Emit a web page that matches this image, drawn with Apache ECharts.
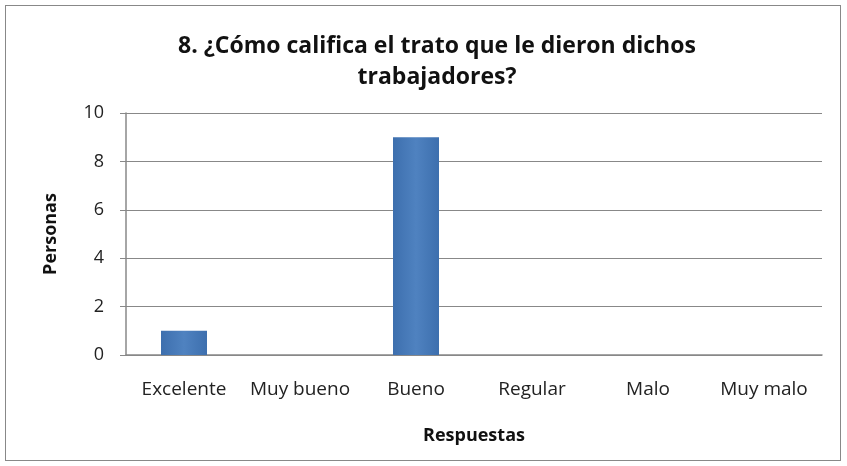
<!DOCTYPE html>
<html><head><meta charset="utf-8">
<script src="https://cdn.jsdelivr.net/npm/echarts@6/dist/echarts.min.js"></script>
<style>html,body{margin:0;padding:0;background:#fff}#c{width:847px;height:466px}
#frame{position:absolute;left:5px;top:5px;width:836px;height:456px;border:1.5px solid #888;box-sizing:border-box;pointer-events:none}</style>
</head><body><div id="c"></div><div id="frame"></div>
<script>
const categories = ["Excelente", "Muy bueno", "Bueno", "Regular", "Malo", "Muy malo"];
const personas = [1, 0, 9, 0, 0, 0];
const yTicks = { min: 0, max: 10, interval: 2 };
const titleText = "8. ¿Cómo califica el trato que le dieron dichos\ntrabajadores?";
const FONT = "'Open Sans', 'Noto Sans', sans-serif";
const chart = echarts.init(document.getElementById('c'));
chart.setOption({
  animation: false,
  title: { text: titleText, left: 432, textAlign: 'center', top: 26,
    textStyle: { fontFamily: FONT, fontSize: 23, fontWeight: 'bold', color: '#111', lineHeight: 31 } },
  grid: { left: 126, right: 25, top: 113, bottom: 111 },
  xAxis: { type: 'category', data: categories, name: 'Respuestas', nameLocation: 'middle', nameGap: 72,
    nameTextStyle: { fontFamily: FONT, fontSize: 18, fontWeight: 'bold', color: '#111' },
    axisLine: { lineStyle: { color: '#888', width: 1.5 } }, axisTick: { show: false },
    axisLabel: { fontFamily: FONT, fontSize: 19, color: '#222', margin: 25, interval: 0 } },
  yAxis: { type: 'value', min: yTicks.min, max: yTicks.max, interval: yTicks.interval,
    name: 'Personas', nameLocation: 'middle', nameGap: 66, nameRotate: 90,
    nameTextStyle: { fontFamily: FONT, fontSize: 18, fontWeight: 'bold', color: '#111' },
    axisLine: { show: true, lineStyle: { color: '#888', width: 1.5 } },
    axisTick: { show: true, length: 6, lineStyle: { color: '#888' } },
    splitLine: { lineStyle: { color: '#888', width: 1.2 } },
    axisLabel: { fontFamily: FONT, fontSize: 18, color: '#222', margin: 22 } },
  series: [{ type: 'bar', data: personas, barWidth: 46,
    itemStyle: { color: new echarts.graphic.LinearGradient(0,0,1,0,[
      {offset:0,color:'#3d6fae'},{offset:0.5,color:'#4f82c0'},{offset:1,color:'#3d6fae'}]),
      borderWidth: 0 } }]
});
</script></body></html>
